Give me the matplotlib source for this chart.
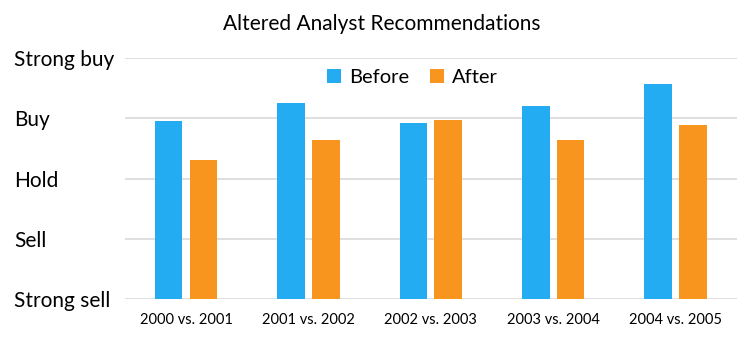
import matplotlib.pyplot as plt
import numpy as np

plt.rcParams['font.family'] = ['Lato', 'DejaVu Sans']

periods = ['2000 vs. 2001', '2001 vs. 2002', '2002 vs. 2003', '2003 vs. 2004', '2004 vs. 2005']
before = [3.96, 4.25, 3.92, 4.20, 4.57]
after = [3.31, 3.65, 3.98, 3.65, 3.89]
levels = ['Strong sell', 'Sell', 'Hold', 'Buy', 'Strong buy']

blue = '#23ACF2'
orange = '#F7951F'

fig = plt.figure(figsize=(7.48, 3.55), dpi=100)
ax = fig.add_axes([0.167, 0.157, 0.818, 0.679])

x = np.arange(len(periods))
w = 0.225
off = 0.142
ax.bar(x - off, before, w, bottom=0, color=blue, label='Before', zorder=3)
ax.bar(x + off, after, w, bottom=0, color=orange, label='After', zorder=3)

ax.set_xlim(-0.5, len(periods) - 0.5)
ax.set_ylim(1, 5)
ax.set_yticks(range(1, 6))
ax.set_yticklabels(levels, fontsize=15, ha='left')
ax.tick_params(axis='y', length=0, pad=80)
ax.set_xticks(x)
ax.set_xticklabels(periods, fontsize=10.5)
ax.tick_params(axis='x', length=0, pad=10)

ax.grid(axis='y', color='#D9D9D9', linewidth=1.2, zorder=0)
for s in ax.spines.values():
    s.set_visible(False)

ax.set_title('Altered Analyst Recommendations', fontsize=15, pad=20, x=0.42)
ax.legend(loc='upper center', bbox_to_anchor=(0.47, 1.03), ncol=2, frameon=False,
          fontsize=14.5, handlelength=0.7, handleheight=0.7, handletextpad=0.4,
          columnspacing=1.0)

fig.savefig('out.png', dpi=100)
